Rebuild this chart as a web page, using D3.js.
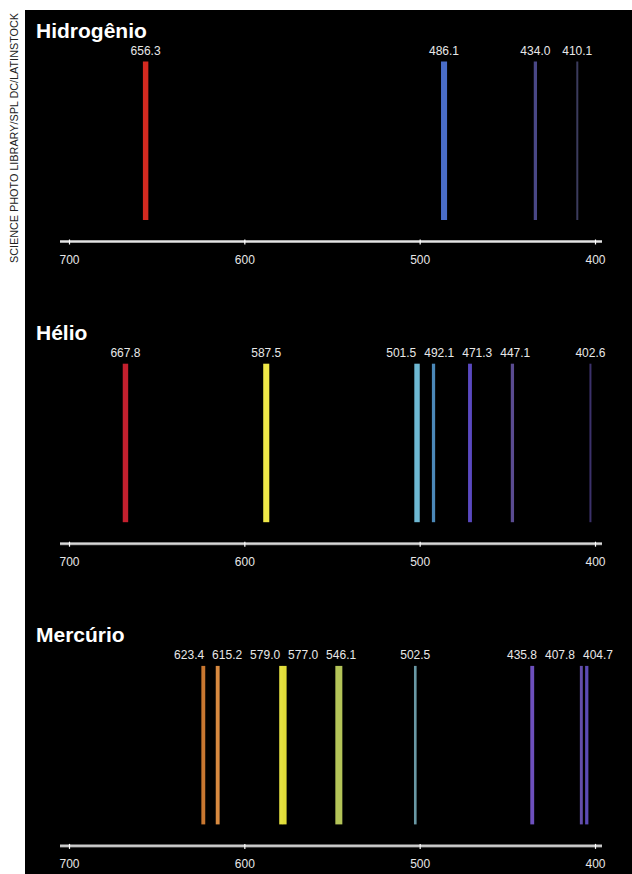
<!DOCTYPE html>
<html>
<head>
<meta charset="utf-8">
<script src="https://cdn.jsdelivr.net/npm/d3@7"></script>
<style>
  html, body { margin: 0; padding: 0; background: #fff; }
  svg { display: block; }
</style>
</head>
<body>
<svg id="chart" width="632" height="874"></svg>
<script>
// ---- data ----
const elementNames = ["Hidrogênio", "Hélio", "Mercúrio"];
const wavelengthTicks = [700, 600, 500, 400];

const hydrogenLines = [656.3, 486.1, 434.0, 410.1];
const hydrogenIntensity = [7.5, 8.5, 4, 2];

const heliumLines = [667.8, 587.5, 501.5, 492.1, 471.3, 447.1, 402.6];
const heliumIntensity = [7.5, 8.5, 7.5, 4, 5, 4, 2];

const mercuryLines = [623.4, 615.2, 579.0, 577.0, 546.1, 502.5, 435.8, 407.8, 404.7];
const mercuryIntensity = [5, 5, 5, 5, 10, 3, 5, 3.5, 4];

const creditText = "SCIENCE PHOTO LIBRARY/SPL DC/LATINSTOCK";

// spectral colour stops (wavelength nm -> colour)
const colorStopsNm = [400, 405, 408, 410, 434, 436, 447, 471, 486, 492, 501, 503, 546, 577, 579, 588, 615, 623, 656, 668];
const colorStops = ["#6a5aa8", "#6c58d8", "#8266dc", "#6c6ca8", "#56549e", "#7050c0", "#6a58aa", "#5a48c0",
  "#4a6cc8", "#58a0d8", "#5aa8c8", "#a8e8f4", "#b4c458", "#e0dc38", "#e4e040", "#f0e848", "#d88a40", "#c87830",
  "#d42a20", "#c4202e"];

const spectra = [
  { name: elementNames[0], lines: hydrogenLines, intensity: hydrogenIntensity },
  { name: elementNames[1], lines: heliumLines, intensity: heliumIntensity },
  { name: elementNames[2], lines: mercuryLines, intensity: mercuryIntensity }
];

// ---- layout ----
const svg = d3.select("#chart");
const W = 632, H = 874;
const FONT = "'Liberation Sans', Arial, Helvetica, sans-serif";

svg.append("rect").attr("x", 0).attr("y", 0).attr("width", W).attr("height", H).attr("fill", "#fff");
svg.append("rect").attr("x", 25).attr("y", 10).attr("width", W - 25).attr("height", H - 10).attr("fill", "#000");

// credit
svg.append("text")
  .attr("transform", "translate(18,263) rotate(-90)")
  .attr("font-family", FONT)
  .attr("font-size", 10.5)
  .attr("fill", "#222")
  .attr("textLength", 250)
  .attr("lengthAdjust", "spacingAndGlyphs")
  .text(creditText);

const x = d3.scaleLinear().domain([700, 400]).range([69, 595]);
const widthScale = d3.scaleLinear().domain([2, 10]).range([2, 7]);
const opacityScale = d3.scaleLinear().domain([2, 5]).range([0.55, 1]).clamp(true);
const colorScale = d3.scaleLinear().domain(colorStopsNm).range(colorStops).interpolate(d3.interpolateRgb);

const axisY0 = 241.5, panelStep = 302.2;
const labelGap = 38, labelMax = 598;

function layoutLabels(xs) {
  // cluster overlapping labels and spread them evenly around their mean
  const order = xs.map((v, i) => i).sort((a, b) => xs[a] - xs[b]);
  let clusters = [];
  order.forEach(i => {
    clusters.push({ idx: [i], mean: xs[i] });
    let merged = true;
    while (merged && clusters.length > 1) {
      merged = false;
      const c = clusters[clusters.length - 1], p = clusters[clusters.length - 2];
      const pRight = p.mean + (p.idx.length - 1) / 2 * labelGap;
      const cLeft = c.mean - (c.idx.length - 1) / 2 * labelGap;
      if (cLeft - pRight < labelGap) {
        const idx = p.idx.concat(c.idx);
        clusters.splice(clusters.length - 2, 2, { idx, mean: d3.mean(idx, k => xs[k]) });
        merged = true;
      }
    }
  });
  const out = new Array(xs.length);
  clusters.forEach(c => {
    let start = c.mean - (c.idx.length - 1) / 2 * labelGap;
    const end = start + (c.idx.length - 1) * labelGap;
    if (end > labelMax) start -= end - labelMax;
    c.idx.forEach((k, j) => out[k] = start + j * labelGap);
  });
  return out;
}

spectra.forEach((sp, i) => {
  const ay = axisY0 + i * panelStep;
  const g = svg.append("g");

  // title
  g.append("text")
    .attr("x", 36).attr("y", ay - 204)
    .attr("font-family", FONT).attr("font-weight", "bold")
    .attr("font-size", 21).attr("fill", "#fff")
    .text(sp.name);

  const data = sp.lines.map((w, k) => ({ w, inten: sp.intensity[k] }));

  // emission lines
  g.selectAll("rect.line").data(data).enter().append("rect")
    .attr("class", "line")
    .attr("x", d => x(d.w) - widthScale(d.inten) / 2)
    .attr("width", d => widthScale(d.inten))
    .attr("y", ay - 180)
    .attr("height", 158.5)
    .attr("fill", d => colorScale(d.w))
    .attr("fill-opacity", d => opacityScale(d.inten));

  // labels
  const lx = layoutLabels(data.map(d => x(d.w)));
  g.selectAll("text.lbl").data(data).enter().append("text")
    .attr("class", "lbl")
    .attr("x", (d, k) => lx[k])
    .attr("y", ay - 187)
    .attr("text-anchor", "middle")
    .attr("font-family", FONT).attr("font-size", 12)
    .attr("fill", "#e8e8e8")
    .text(d => d3.format(".1f")(d.w));

  // axis bar
  g.append("rect")
    .attr("x", x.range()[0] - 9).attr("y", ay - 1.5)
    .attr("width", x.range()[1] - x.range()[0] + 16).attr("height", 3)
    .attr("fill", "#a8a8a8");
  g.append("rect")
    .attr("x", x.range()[0] - 9).attr("y", ay - 0.5)
    .attr("width", x.range()[1] - x.range()[0] + 16).attr("height", 1)
    .attr("fill", "#e4e4e4");

  const axis = d3.axisBottom(x).tickValues(wavelengthTicks).tickSize(3).tickFormat(d3.format("d"));
  const ag = g.append("g").attr("transform", `translate(0,${ay})`).call(axis);
  ag.select(".domain").remove();
  ag.selectAll(".tick line").attr("stroke", "#fff").attr("stroke-width", 1.2).attr("y1", -2);
  ag.selectAll(".tick text")
    .attr("y", 22).attr("dy", 0)
    .attr("font-family", FONT).attr("font-size", 12)
    .attr("fill", "#e6e6e6");
});
</script>
</body>
</html>
